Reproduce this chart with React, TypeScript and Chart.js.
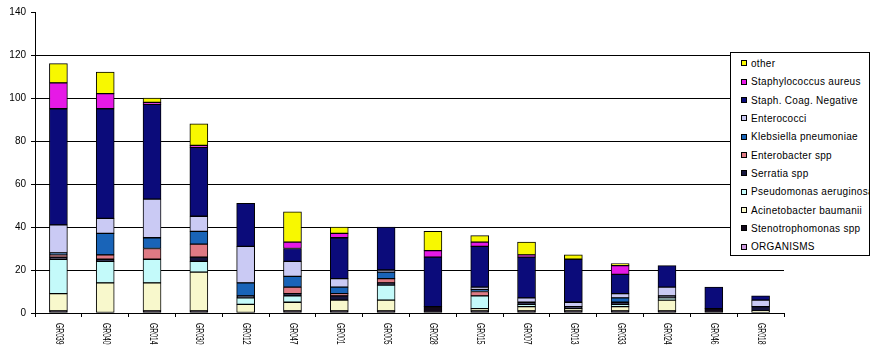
import React, { useEffect, useRef } from "react";
import { Chart, registerables } from "chart.js";
Chart.register(...registerables);

const categories = ["GR039", "GR040", "GR014", "GR030", "GR012", "GR047", "GR001", "GR005", "GR028", "GR015", "GR007", "GR013", "GR033", "GR024", "GR046", "GR018"];

// stacked bottom -> top
const organisms = [0, 0, 0, 0, 0, 0, 0, 0, 0, 0, 0, 0, 0, 0, 0, 0];
const stenotrophomonas = [1, 0, 1, 1, 0, 1, 1, 1, 3, 1, 1, 1, 1, 1, 2, 0];
const acinetobacter = [8, 14, 13, 18, 4, 4, 5, 5, 0, 1, 2, 1, 2, 5, 0, 1];
const pseudomonas = [16, 10, 11, 5, 3, 3, 0, 7, 0, 6, 1, 0, 1, 1, 0, 0];
const serratia = [1, 1, 0, 2, 1, 1, 2, 1, 0, 0, 1, 1, 1, 1, 0, 2];
const enterobacter = [1, 2, 5, 6, 0, 3, 1, 2, 0, 2, 0, 0, 0, 0, 0, 0];
const klebsiella = [1, 10, 5, 6, 6, 5, 3, 3, 0, 1, 0, 0, 2, 0, 0, 0];
const enterococci = [13, 7, 18, 7, 17, 7, 4, 1, 0, 1, 2, 2, 2, 4, 0, 3];
const staphCoagNeg = [54, 51, 44, 32, 20, 6, 19, 20, 23, 19, 19, 20, 9, 10, 10, 2];
const staphAureus = [12, 7, 1, 1, 0, 3, 2, 0, 3, 2, 1, 0, 4, 0, 0, 0];
const other = [9, 10, 2, 10, 0, 14, 3, 0, 9, 3, 6, 2, 1, 0, 0, 0];

const seriesNames = ["ORGANISMS", "Stenotrophomonas spp", "Acinetobacter baumanii", "Pseudomonas aeruginosa", "Serratia spp", "Enterobacter spp", "Klebsiella pneumoniae", "Enterococci", "Staph. Coag. Negative", "Staphylococcus aureus", "other"];
const seriesColors = ["#CC99DD", "#12081A", "#F8F8CC", "#C4FAFA", "#16163E", "#DF7A84", "#1964B8", "#CACAF4", "#0B0B7A", "#E619E6", "#F8F800"];

const yTicks = [0, 20, 40, 60, 80, 100, 120, 140];

export default function App() {
  const ref = useRef<HTMLCanvasElement>(null);
  useEffect(() => {
    const values = [organisms, stenotrophomonas, acinetobacter, pseudomonas, serratia, enterobacter, klebsiella, enterococci, staphCoagNeg, staphAureus, other];
    const datasets = seriesNames.map((n, i) => ({
      label: n,
      data: values[i].map((v) => (v === 0 ? null : v)),
      backgroundColor: seriesColors[i],
      borderColor: "#000000",
      borderWidth: 1,
      borderSkipped: false,
      barThickness: 18,
    }));
    const xLabelPlugin = {
      id: "xlabels",
      afterDraw(chart: any) {
        const ctx = chart.ctx;
        const xs = chart.scales.x;
        ctx.save();
        ctx.font = "11px 'Liberation Sans', Arial, sans-serif";
        ctx.fillStyle = "#000";
        ctx.textAlign = "left";
        ctx.textBaseline = "middle";
        categories.forEach((c, i) => {
          const x = xs.getPixelForValue(i);
          ctx.save();
          ctx.translate(x + 0.5, chart.chartArea.bottom + 10);
          ctx.rotate(Math.PI / 2);
          ctx.scale(0.62, 1);
          ctx.fillText(c, 0, 0);
          ctx.restore();
        });
        ctx.restore();
      },
    };
    const chart = new Chart(ref.current as HTMLCanvasElement, {
      type: "bar",
      data: { labels: categories, datasets: datasets as any },
      options: {
        animation: false,
        responsive: false,
        devicePixelRatio: 1,
        layout: { padding: { top: 12, right: 93, left: 0, bottom: 0 } },
        plugins: { legend: { display: false }, tooltip: { enabled: false } },
        scales: {
          x: {
            stacked: true,
            grid: { display: true, drawOnChartArea: false, offset: true, tickLength: 4, color: "#000", tickColor: "#000" },
            border: { display: true, color: "#000", width: 1 },
            ticks: { display: false },
            afterFit: (s: any) => { s.height = 49; },
          },
          y: {
            stacked: true,
            min: 0,
            max: 140,
            afterBuildTicks: (s: any) => { s.ticks = yTicks.map((v) => ({ value: v })); },
            grid: {
              color: (c: any) => (c.tick && c.tick.value === 140 ? "rgba(0,0,0,0)" : "#000"),
              tickColor: "#000",
              tickLength: 4,
              lineWidth: 1,
            },
            border: { display: true, color: "#000", width: 1 },
            ticks: { color: "#000", padding: 5, font: { family: "'Liberation Sans', Arial, sans-serif", size: 10 } },
            afterFit: (s: any) => { s.width = 35; },
          },
        },
      },
      plugins: [xLabelPlugin],
    });
    return () => chart.destroy();
  }, []);

  const legendOrder = seriesNames.map((_, i) => seriesNames.length - 1 - i);

  return (
    <div style={{ position: "absolute", left: 0, top: 0, width: 877, height: 362, background: "#fff" }}>
      <canvas ref={ref} width={877} height={362} style={{ display: "block" }} />
      <div style={{ position: "absolute", left: 730, top: 52, width: 140, height: 204, boxSizing: "border-box", border: "1px solid #000", background: "#fff", overflow: "hidden" }}>
        {legendOrder.map((si, k) => (
          <div key={si} style={{ position: "absolute", left: 10, top: 10.3 + k * 18.35 - 7, height: 14, display: "flex", alignItems: "center", whiteSpace: "nowrap" }}>
            <span style={{ display: "inline-block", width: 4, height: 4, border: "1px solid #000", background: seriesColors[si] }} />
            <span style={{ marginLeft: 4, fontFamily: "'Liberation Sans', Arial, sans-serif", fontSize: 10, letterSpacing: 0.3, color: "#000" }}>{seriesNames[si]}</span>
          </div>
        ))}
      </div>
    </div>
  );
}
